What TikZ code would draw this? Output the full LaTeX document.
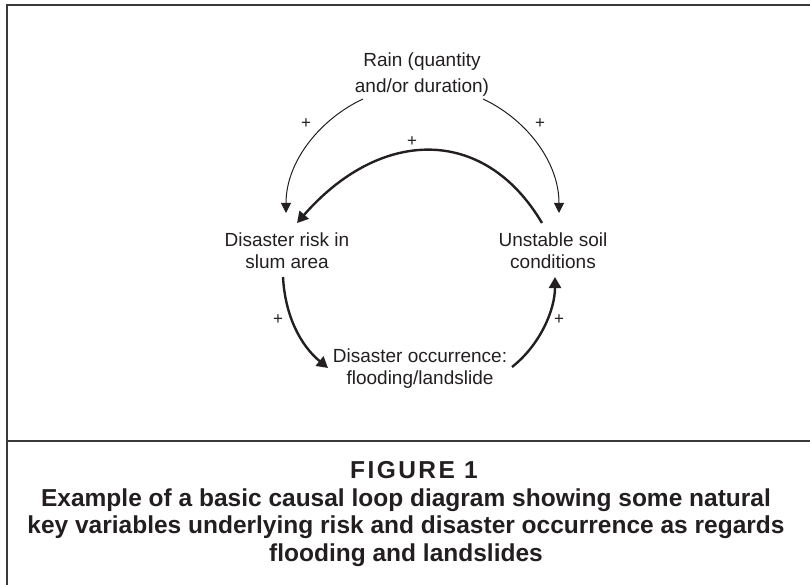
\documentclass[tikz,border=0pt]{standalone}
\usepackage{fontspec}
\setmainfont{Liberation Sans}
\usetikzlibrary{arrows.meta,calc}
\definecolor{ink}{HTML}{231F20}
\definecolor{rulecol}{HTML}{3A3A3A}
\begin{document}
\begin{tikzpicture}[x=1pt,y=-1pt,
  lbl/.style={font=\fontsize{19}{22}\selectfont, text=ink, align=center, inner sep=0pt},
  pm/.style={font=\fontsize{17}{17}\selectfont, text=ink, inner sep=0pt},
  thinarrow/.style={draw=ink, line width=1pt, -{Triangle[length=10pt,width=10pt]}},
  thickarrow/.style={draw=ink, line width=2.4pt, -{Triangle[length=11pt,width=12pt]}},
  capline/.style={font=\fontsize{24.5}{27.5}\selectfont\bfseries, text=ink, inner sep=0pt},
  framerule/.style={draw=rulecol, line width=2pt}]
\useasboundingbox (0,0) rectangle (810,585);
% frame
\draw[framerule] (6.5,590) -- (6.5,5) -- (815,5);
\draw[framerule] (6.5,441) -- (815,441);
% variables
\node[lbl, font=\fontsize{19}{26}\selectfont] (rain) at (422,75) {Rain (quantity\\and/or duration)};
\node[lbl] (risk) at (287,251) {Disaster risk in\\slum area};
\node[lbl] (soil) at (553,251) {Unstable soil\\conditions};
\node[lbl] (occ) at (420,369) {Disaster occurrence:\\flooding/landslide};
% links
\draw[thinarrow] ($(rain)+(-59,24)$) .. controls (322,118) and (286,160) .. ($(risk)+(-1,-38)$);
\draw[thinarrow] ($(rain)+(61,24)$) .. controls (524,118) and (559,160) .. ($(soil)+(6,-38)$);
\draw[thickarrow] ($(soil)+(-11,-28)$) .. controls (484,125) and (380,128) .. ($(risk)+(10,-28)$);
\draw[thickarrow] ($(risk)+(-4,26)$) .. controls (285,315) and (300,345) .. ($(occ)+(-92,-1)$);
\draw[thickarrow] ($(occ)+(92,-2)$) .. controls (540,345) and (555,310) .. ($(soil)+(2,26)$);
% polarities
\node[pm] (p1) at (306,124) {+};
\node[pm] (p2) at (540,124) {+};
\node[pm] (p3) at (412,142) {+};
\node[pm] (p4) at (278,320) {+};
\node[pm] (p5) at (559,320) {+};
% caption
\node[capline, font=\fontsize{24.5}{27.5}\selectfont\bfseries\addfontfeatures{LetterSpace=10}] (fig) at (414,470) {FIGURE 1};
\node[capline] (c1) at (406,500) {Example of a basic causal loop diagram showing some natural};
\node[capline] (c2) at (406,527) {key variables underlying risk and disaster occurrence as regards};
\node[capline] (c3) at (406,555) {flooding and landslides};
\end{tikzpicture}
\end{document}
